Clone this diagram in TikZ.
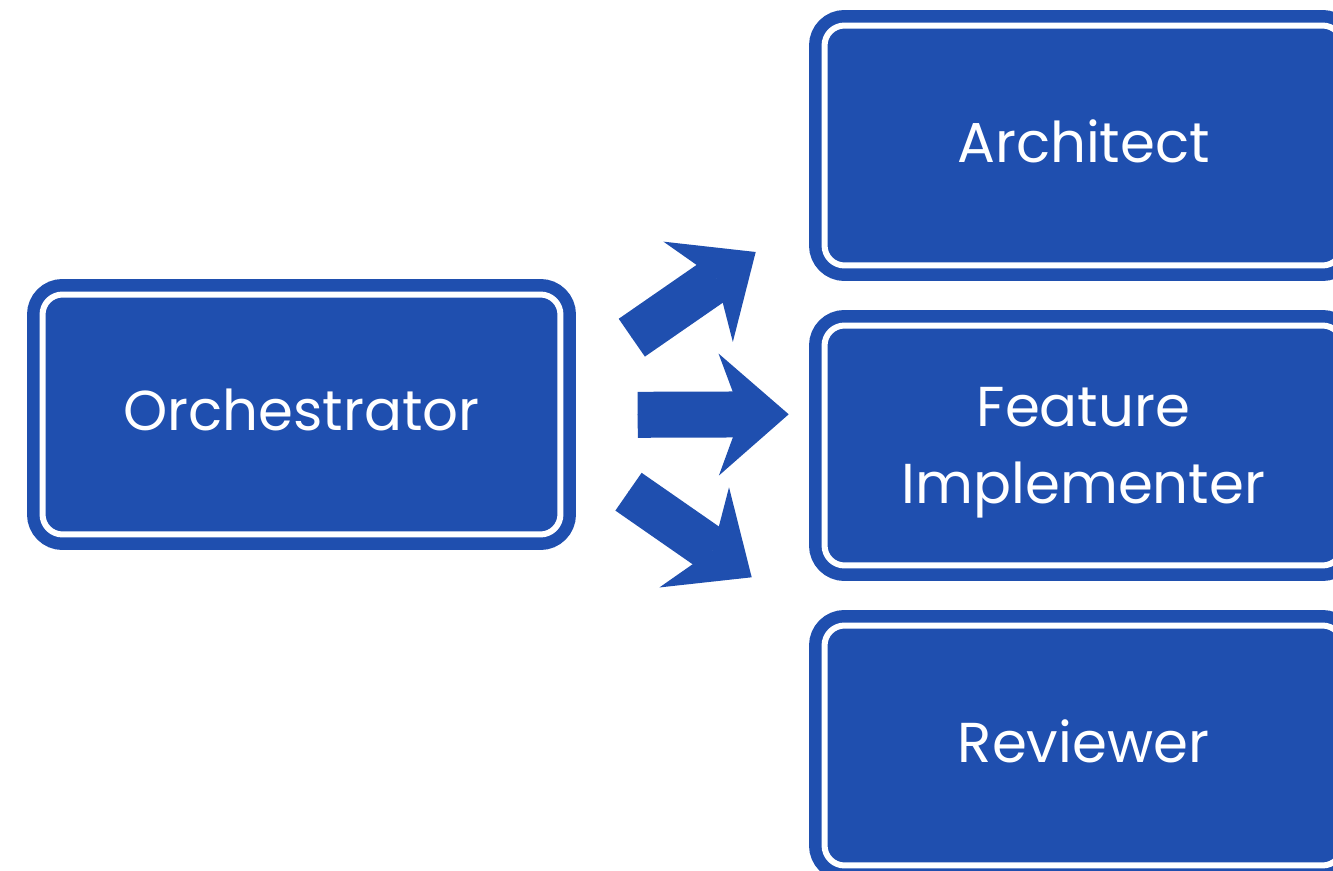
\documentclass[tikz,border=0pt]{standalone}
\usepackage{fontspec}
\setmainfont{Poppins}
\usetikzlibrary{arrows.meta,positioning}
\definecolor{agent}{HTML}{1F4FAF}

\tikzset{
  agentbox/.style={draw=white, line width=0.12cm, fill=agent, rounded corners=0.4cm,
    preaction={draw=agent, line width=0.62cm},
    minimum width=10.36cm, minimum height=4.8cm, inner sep=0pt,
    text=white, font=\fontsize{32}{44}\selectfont, align=center, text depth=5pt},
  flowarrow/.style={agent, line width=0.92cm,
    preaction={draw=agent, -, shorten >=0.8cm},
    -{Stealth[length=1.4cm, width=2.44cm, inset=0.45cm, line width=0pt]}}
}

\begin{document}
\begin{tikzpicture}[x=0.02cm, y=-0.02cm]
  \useasboundingbox (0,0) rectangle (1333,871);

  % Orchestrator
  \node[agentbox] (orch) at (301.5,414.5) {Orchestrator};

  % Agents
  \node[agentbox] (arch) at (1083.5,145.5) {Architect};
  \node[agentbox, text depth=0pt] (feat) at (1083.5,445.5) {Feature\\Implementer};
  \node[agentbox] (rev) at (1083.5,745.5) {Reviewer};

  % Arrow ends
  \coordinate (up0) at (631.8,337.7);
  \coordinate (up1) at (755.7,252);
  \coordinate (mid0) at (637.7,414.8);
  \coordinate (mid1) at (788.7,414.3);
  \coordinate (low0) at (628.5,491.7);
  \coordinate (low1) at (751.7,577.3);

  % Arrows
  \draw[flowarrow] (up0) -- (up1);
  \draw[flowarrow] (mid0) -- (mid1);
  \draw[flowarrow] (low0) -- (low1);
\end{tikzpicture}
\end{document}
